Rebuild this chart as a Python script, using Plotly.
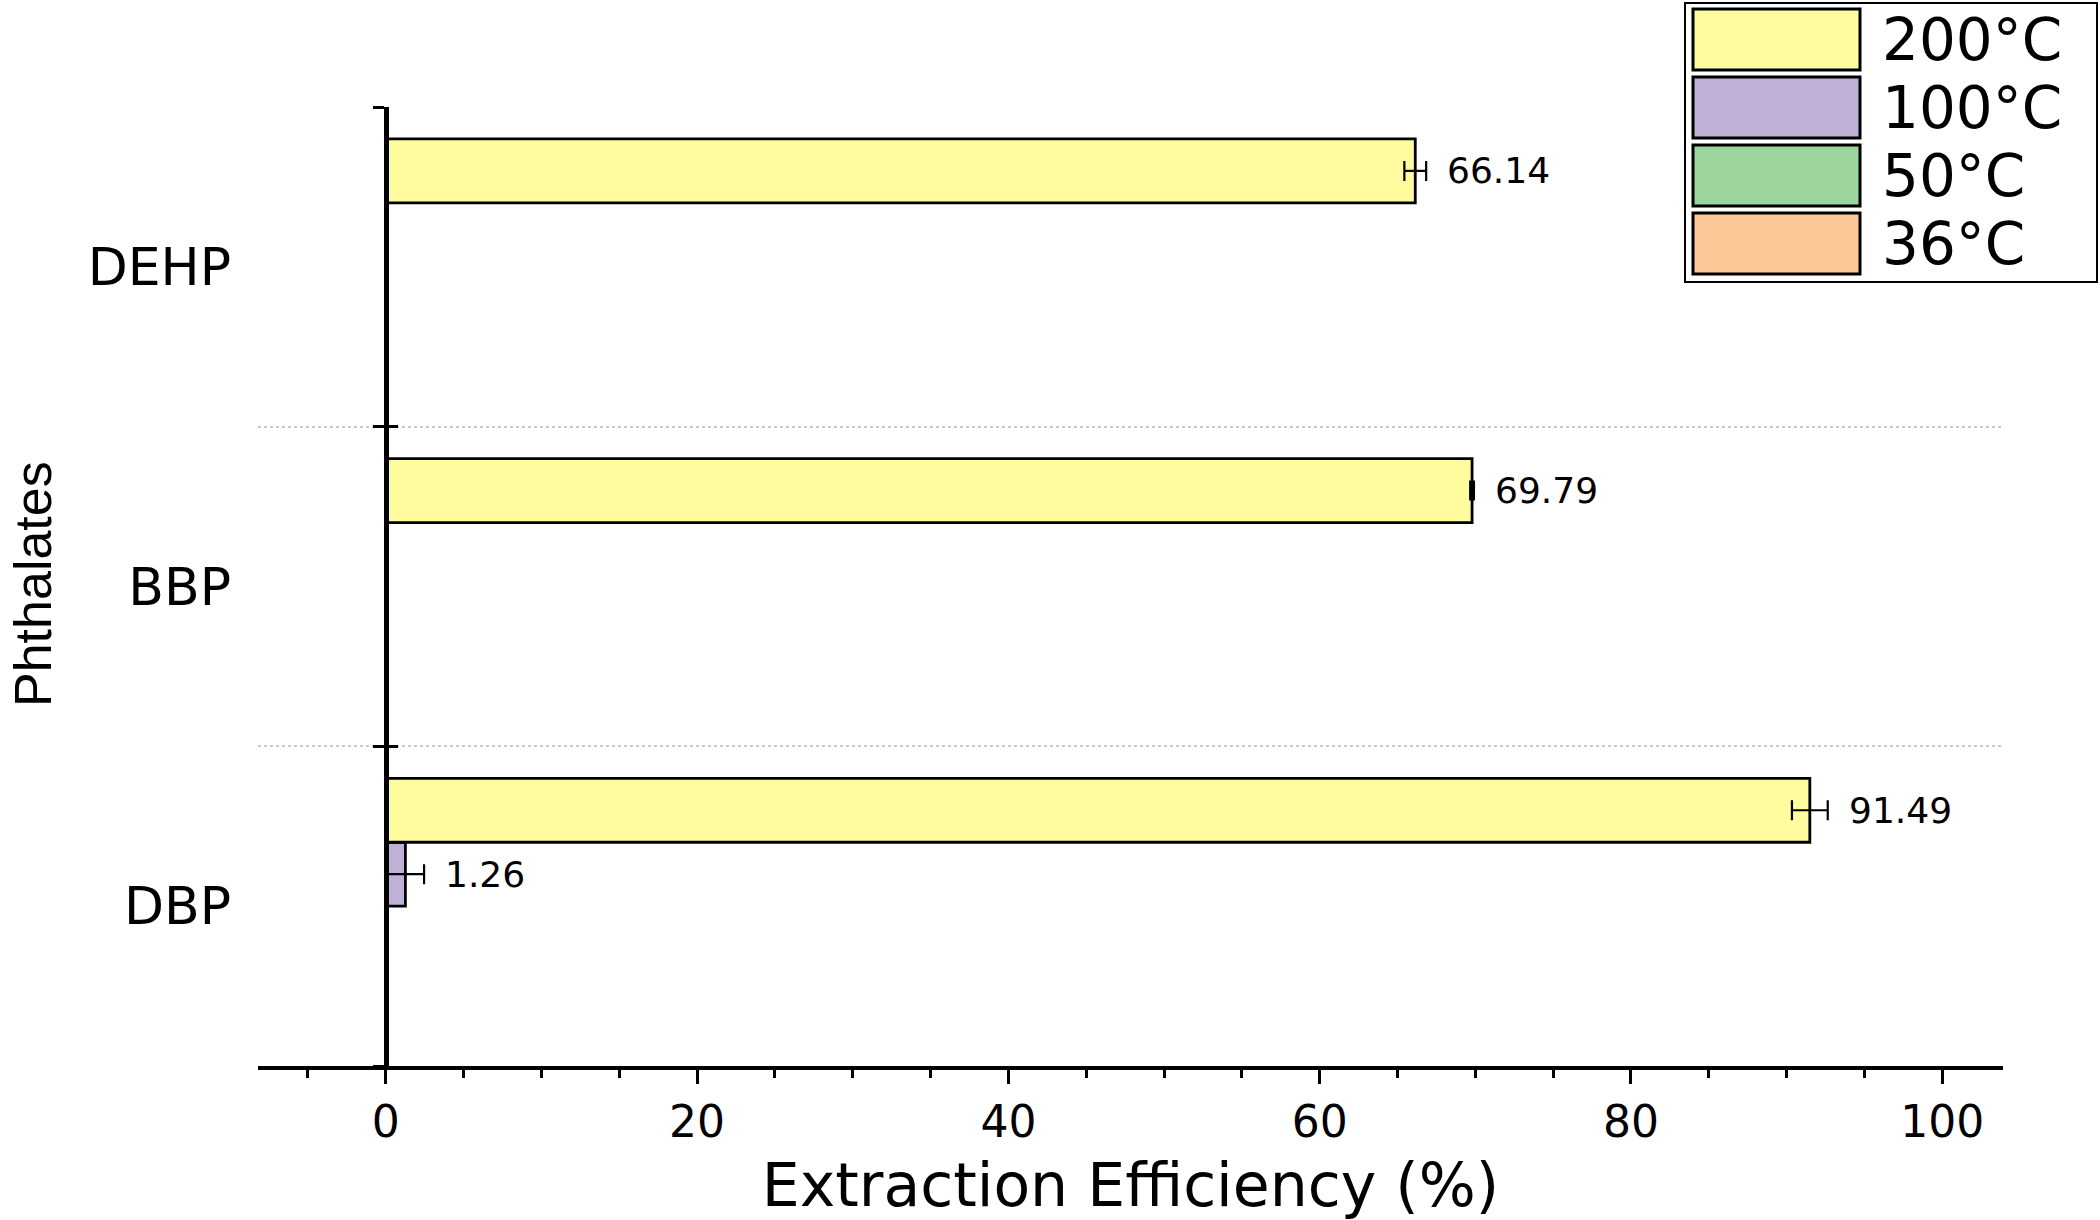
import plotly.graph_objects as go

# ---------------- data ----------------
phthalates = ["DBP", "BBP", "DEHP"]                 # bottom -> top
temps = ["36°C", "50°C", "100°C", "200°C"]          # drawing order (bottom slot -> top slot)
eff_36 = [0, 0, 0]
eff_50 = [0, 0, 0]
eff_100 = [1.26, 0, 0]
eff_200 = [91.49, 69.79, 66.14]
err_36 = [0, 0, 0]
err_50 = [0, 0, 0]
err_100 = [1.2, 0, 0]
err_200 = [1.15, 0.12, 0.7]
colors = ["#FDC898", "#9DD69D", "#BFB0D7", "#FFFB9F"]
x_ticks = [0, 20, 40, 60, 80, 100]

values = [eff_36, eff_50, eff_100, eff_200]
errors = [err_36, err_50, err_100, err_200]

# ---------------- layout geometry ----------------
W, H = 2100, 1220
L, R, T, B = 258, 97, 107, 154
PW, PH = W - L - R, H - T - B
X_RANGE = [-8.21, 103.9]
BARGAP = 0.2
FONT = "DejaVu Sans"

def px_x(p):
    return (p - L) / PW

def px_y(p):
    return (H - B - p) / PH

ypos = list(range(len(phthalates)))

fig = go.Figure()
for name, vals, errs, col in zip(temps, values, errors, colors):
    fig.add_trace(go.Bar(
        name=name, orientation="h", y=ypos, x=vals,
        marker=dict(color=col, line=dict(color="black", width=2.8)),
        error_x=dict(type="data", array=errs, visible=True, color="black",
                     thickness=2.2, width=10),
        showlegend=False, hoverinfo="x+name",
    ))

# invisible traces so the decorative y-axes at x=0 are drawn
fig.add_trace(go.Scatter(x=[0], y=[None], yaxis="y2", showlegend=False, hoverinfo="skip"))
fig.add_trace(go.Scatter(x=[0], y=[None], yaxis="y3", showlegend=False, hoverinfo="skip"))

# value labels next to the error bars
n = len(temps)
slot = (1 - BARGAP) / n
annotations = []
for i, (vals, errs) in enumerate(zip(values, errors)):
    off = -(1 - BARGAP) / 2 + slot * (i + 0.5)
    for j, (v, e) in enumerate(zip(vals, errs)):
        if v > 0:
            annotations.append(dict(
                x=v + e, y=ypos[j] + off, xref="x", yref="y",
                text=f"{v:.2f}", showarrow=False, xanchor="left", yanchor="middle",
                xshift=19, font=dict(family=FONT, size=36, color="black"),
            ))

# y-axis title
annotations.append(dict(
    x=px_x(33), y=px_y(584), xref="paper", yref="paper", text="Phthalates",
    textangle=-90, showarrow=False, xanchor="center", yanchor="middle",
    font=dict(family="Liberation Sans, Arial", size=52, color="black"),
))

# custom legend (top item first)
shapes = []
shapes.append(dict(type="rect", xref="paper", yref="paper",
                   x0=px_x(1685), x1=px_x(2097), y0=px_y(282), y1=px_y(3),
                   line=dict(color="black", width=2), fillcolor="white", layer="above"))
for k, (name, col) in enumerate(zip(temps[::-1], colors[::-1])):
    top = 9 + 68 * k
    shapes.append(dict(type="rect", xref="paper", yref="paper",
                       x0=px_x(1693), x1=px_x(1860), y0=px_y(top + 61), y1=px_y(top),
                       line=dict(color="black", width=3), fillcolor=col, layer="above"))
    annotations.append(dict(
        x=px_x(1880), y=px_y(top + 31), xref="paper", yref="paper", text=name,
        showarrow=False, xanchor="left", yanchor="middle",
        font=dict(family=FONT, size=58, color="black"),
    ))

y0_pos = (0 - X_RANGE[0]) / (X_RANGE[1] - X_RANGE[0])
bounds = [p - 0.5 for p in ypos] + [ypos[-1] + 0.5]

fig.update_layout(
    width=W, height=H,
    margin=dict(l=L, r=R, t=T, b=B, autoexpand=False),
    paper_bgcolor="white", plot_bgcolor="white",
    barmode="group", bargap=BARGAP, bargroupgap=0,
    font=dict(family=FONT, color="black"),
    showlegend=False,
    xaxis=dict(
        range=X_RANGE, tickmode="array", tickvals=x_ticks, automargin=False,
        showline=True, linecolor="black", linewidth=4,
        ticks="outside", ticklen=14, tickwidth=3, tickcolor="black",
        tickfont=dict(family=FONT, size=44, color="black"),
        showgrid=False, zeroline=False,
        minor=dict(tickmode="linear", tick0=0, dtick=5, ticks="outside",
                   ticklen=8, tickwidth=2.5, tickcolor="black", showgrid=False),
        title=dict(text="Extraction Efficiency (%)", standoff=26,
                   font=dict(family=FONT, size=60, color="black")),
    ),
    yaxis=dict(
        range=[-0.5, 2.5], tickmode="array", tickvals=ypos, ticktext=phthalates,
        automargin=False,
        showline=False, ticks="", ticklabelstandoff=26,
        tickfont=dict(family=FONT, size=52, color="black"),
        showgrid=False, zeroline=False,
        minor=dict(tickmode="array", tickvals=bounds[1:-1], showgrid=True,
                   gridcolor="#c8c8c8", griddash="dot", gridwidth=1.5, ticks=""),
    ),
    yaxis2=dict(
        overlaying="y", anchor="free", position=y0_pos, side="left", automargin=False,
        range=[-0.5, 2.5], tickmode="array", tickvals=bounds,
        showticklabels=False, ticks="outside", ticklen=11, tickwidth=3, tickcolor="black",
        showline=True, linecolor="black", linewidth=4.5, showgrid=False, zeroline=False,
    ),
    yaxis3=dict(
        overlaying="y", anchor="free", position=y0_pos, side="left", automargin=False,
        range=[-0.5, 2.5], tickmode="array", tickvals=bounds,
        showticklabels=False, ticks="inside", ticklen=11, tickwidth=3, tickcolor="black",
        showline=False, showgrid=False, zeroline=False,
    ),
    annotations=annotations,
    shapes=shapes,
)

fig.write_html("out.html", config={"displayModeBar": False},
               post_script="document.body.style.margin='0';")
